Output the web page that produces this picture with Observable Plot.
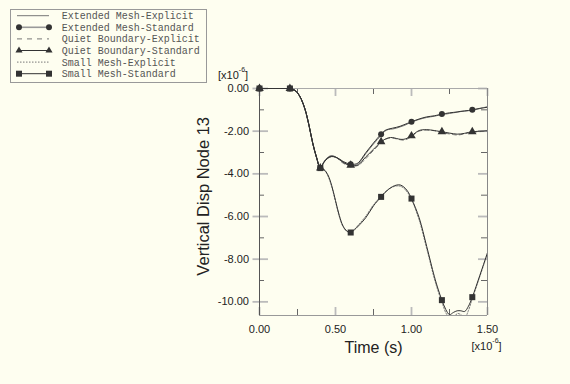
<!DOCTYPE html>
<html><head><meta charset="utf-8">
<script src="https://cdn.jsdelivr.net/npm/d3@7"></script>
<script src="https://cdn.jsdelivr.net/npm/@observablehq/plot@0.6"></script>
<style>
html,body{margin:0;padding:0;background:#fefef0;}
#chart{position:relative;width:570px;height:384px;}
</style></head><body><div id="chart"></div>
<script>
const times = [0, 0.2, 0.225, 0.25, 0.275, 0.3, 0.325, 0.35, 0.375, 0.4,
  0.425, 0.45, 0.475, 0.5, 0.525, 0.55, 0.575, 0.6, 0.625, 0.65,
  0.7, 0.75, 0.8, 0.825, 0.85, 0.875, 0.9, 0.925, 0.95, 0.975,
  1.0, 1.05, 1.1, 1.15, 1.175, 1.2, 1.225, 1.25, 1.275, 1.3,
  1.325, 1.35, 1.375, 1.4, 1.45, 1.5];

const extendedExplicit = [0, 0, -0.05, -0.21, -0.52, -1.0, -1.72, -2.57, -3.24, -3.72,
  -3.42, -3.22, -3.15, -3.2, -3.33, -3.47, -3.56, -3.6, -3.6, -3.52,
  -3.05, -2.6, -2.2, -2.0, -1.92, -1.9, -1.86, -1.8, -1.74, -1.66,
  -1.58, -1.45, -1.36, -1.3, -1.26, -1.22, -1.2, -1.17, -1.14, -1.11,
  -1.08, -1.06, -1.04, -1.02, -0.94, -0.85];
const extendedStandard = [0, 0, -0.05, -0.2, -0.5, -0.98, -1.7, -2.55, -3.22, -3.73,
  -3.45, -3.27, -3.19, -3.22, -3.3, -3.42, -3.5, -3.55, -3.55, -3.48,
  -3.0, -2.55, -2.14, -1.97, -1.9, -1.86, -1.82, -1.77, -1.7, -1.63,
  -1.56, -1.43, -1.33, -1.28, -1.24, -1.2, -1.17, -1.14, -1.12, -1.1,
  -1.07, -1.05, -1.03, -1.0, -0.93, -0.88];
const quietExplicit = [0, 0, -0.05, -0.21, -0.52, -1.0, -1.72, -2.57, -3.24, -3.72,
  -3.42, -3.22, -3.16, -3.2, -3.35, -3.5, -3.58, -3.62, -3.63, -3.6,
  -3.28, -2.9, -2.55, -2.4, -2.33, -2.32, -2.36, -2.4, -2.42, -2.36,
  -2.25, -2.0, -1.95, -1.98, -2.02, -2.06, -2.1, -2.13, -2.16, -2.18,
  -2.16, -2.12, -2.08, -2.05, -2.02, -2.0];
const quietStandard = [0, 0, -0.05, -0.2, -0.5, -0.98, -1.7, -2.55, -3.22, -3.73,
  -3.45, -3.25, -3.18, -3.22, -3.32, -3.45, -3.55, -3.6, -3.62, -3.58,
  -3.2, -2.85, -2.5, -2.38, -2.31, -2.3, -2.34, -2.38, -2.38, -2.32,
  -2.22, -1.97, -1.93, -1.97, -2.0, -2.03, -2.06, -2.09, -2.12, -2.14,
  -2.13, -2.1, -2.06, -2.03, -2.0, -1.98];
const smallExplicit = [0, 0, -0.05, -0.21, -0.52, -1.0, -1.72, -2.57, -3.24, -3.72,
  -3.82, -4.1, -4.6, -5.3, -6.0, -6.48, -6.7, -6.72, -6.6, -6.4,
  -5.98, -5.45, -5.05, -4.86, -4.72, -4.62, -4.57, -4.58, -4.68, -4.88,
  -5.2, -6.15, -7.5, -8.9, -9.5, -10.0, -10.5, -10.75, -10.8, -10.55,
  -10.6, -10.75, -10.4, -9.85, -8.8, -7.75];
const smallStandard = [0, 0, -0.05, -0.2, -0.5, -0.98, -1.7, -2.55, -3.22, -3.73,
  -3.8, -4.05, -4.55, -5.25, -5.95, -6.45, -6.68, -6.75, -6.62, -6.45,
  -6.05, -5.5, -5.08, -4.88, -4.72, -4.6, -4.53, -4.52, -4.62, -4.82,
  -5.16, -6.05, -7.4, -8.8, -9.4, -9.92, -10.35, -10.6, -10.5, -10.42,
  -10.42, -10.45, -10.2, -9.78, -8.75, -7.69];

const seriesNames = ["Extended Mesh-Explicit", "Extended Mesh-Standard", "Quiet Boundary-Explicit",
  "Quiet Boundary-Standard", "Small Mesh-Explicit", "Small Mesh-Standard"];
const markerTimes = [0, 0.2, 0.4, 0.6, 0.8, 1.0, 1.2, 1.4];
const xTicks = [0, 0.5, 1.0, 1.5];
const xMinor = [0.25, 0.75, 1.25];
const yTicks = [0, -2, -4, -6, -8, -10];
const yMinor = [-1, -3, -5, -7, -9];
const xDomain = [0, 1.5];
const yDomain = [-10.64, 0];
const xLabel = "Time (s)";
const yLabel = "Vertical Disp Node 13";
const scaleNote = ["[x10", "-6", "]"];

const W = 570, H = 384, mL = 259, mR = 83, mT = 88, mB = 69;
const iw = W - mL - mR, ih = H - mT - mB;
const font = "'Liberation Sans', Arial, sans-serif";
const rows = vals => times.map((t, i) => ({t, v: vals[i]}));
const marks = vals => rows(vals).filter(d => markerTimes.includes(d.t));

const dark = "#333", light = "#777";
const lineOpts = (stroke, extra = {}) => ({x: "t", y: "v", stroke, strokeWidth: 1, curve: "catmull-rom", clip: true, ...extra});

const chart = Plot.plot({
  width: W, height: H, marginLeft: mL, marginRight: mR, marginTop: mT, marginBottom: mB,
  style: {background: "#fefef0", fontFamily: font, overflow: "visible"},
  x: {domain: xDomain},
  y: {domain: yDomain},
  marks: [
    // inner ticks
    Plot.tickY(yTicks, {y: d => d, insetRight: iw - 9, stroke: "#bbb", strokeWidth: 1.8}),
    Plot.tickY(yMinor, {y: d => d, insetRight: iw - 5, stroke: "#666", strokeWidth: 1}),
    Plot.tickY(yTicks, {y: d => d, insetLeft: iw - 9, stroke: "#bbb", strokeWidth: 1.8}),
    Plot.tickY(yMinor, {y: d => d, insetLeft: iw - 6, stroke: "#666", strokeWidth: 1}),
    Plot.tickX(xTicks, {x: d => d, insetTop: ih - 8, stroke: "#bbb", strokeWidth: 1.8}),
    Plot.tickX(xMinor, {x: d => d, insetTop: ih - 6, stroke: "#666", strokeWidth: 1}),
    Plot.tickX(xTicks, {x: d => d, insetBottom: ih - 8, stroke: "#bbb", strokeWidth: 1.8}),
    Plot.tickX(xMinor, {x: d => d, insetBottom: ih - 6, stroke: "#666", strokeWidth: 1}),
    // frame
    Plot.ruleY([yDomain[1]], {stroke: "#aaa"}),
    Plot.ruleX([xDomain[1]], {stroke: "#888"}),
    Plot.ruleY([yDomain[0]], {stroke: "#999"}),
    Plot.ruleX([xDomain[0]], {stroke: "#555"}),
    Plot.axisY({ticks: yTicks, tickSize: 6.5, tickPadding: 4, tickFormat: d => d.toFixed(2),
      fontSize: 11, stroke: "#bbb", strokeWidth: 1.8, fill: "#222", label: null}),
    Plot.axisX({ticks: xTicks, tickSize: 0, tickPadding: 10, tickFormat: d => d.toFixed(2),
      fontSize: 11, fill: "#222", label: null}),
    // labels
    Plot.text([xLabel], {text: d => d, frameAnchor: "bottom", dy: 26, lineAnchor: "top", textAnchor: "middle", fontSize: 16, fill: "#222"}),
    Plot.text([yLabel], {text: d => d, frameAnchor: "left", rotate: -90, dx: -55.6, dy: -5.7, textAnchor: "middle", lineAnchor: "middle", fontSize: 16.5, fill: "#222"}),
    // lines
    Plot.line(rows(extendedExplicit), lineOpts(light)),
    Plot.line(rows(quietExplicit), lineOpts(light, {strokeDasharray: "4,3"})),
    Plot.line(rows(smallExplicit), lineOpts(light, {strokeDasharray: "1.5,1.5"})),
    Plot.line(rows(extendedStandard), lineOpts(dark)),
    Plot.line(rows(quietStandard), lineOpts(dark)),
    Plot.line(rows(smallStandard), lineOpts(dark)),
    // markers
    Plot.dot(marks(quietStandard), {x: "t", y: "v", symbol: "triangle", r: 3.2, fill: dark, stroke: "none"}),
    Plot.dot(marks(extendedStandard), {x: "t", y: "v", symbol: "circle", r: 3, fill: dark, stroke: "none"}),
    Plot.dot(marks(smallStandard), {x: "t", y: "v", symbol: "square", r: 3.4, fill: dark, stroke: "none"})
  ]
});

document.getElementById("chart").appendChild(chart);

// annotations and legend
const svg = d3.select(chart);
function note(x, y) {
  const t = svg.append("text").attr("x", x).attr("y", y).attr("font-family", font)
    .attr("text-anchor", "start").attr("font-size", 11).attr("fill", "#222");
  t.append("tspan").text(scaleNote[0]);
  t.append("tspan").attr("dy", -7).attr("font-size", 7).text(scaleNote[1]);
  t.append("tspan").attr("dy", 7).text(scaleNote[2]);
}
note(218, 78.5);
note(471.5, 349.5);

const lg = svg.append("g").attr("text-anchor", "start");
lg.append("rect").attr("x", 10.5).attr("y", 9.5).attr("width", 196).attr("height", 73)
  .attr("fill", "none").attr("stroke", "#999");
const rowY = i => 15.7 + i * 11.6;
const styles = [
  {stroke: light, width: 1, dash: null, sym: null},
  {stroke: "#999", width: 1.6, dash: null, sym: d3.symbolCircle, size: 28},
  {stroke: light, width: 1, dash: "5,5", sym: null},
  {stroke: dark, width: 1, dash: null, sym: d3.symbolTriangle, size: 22},
  {stroke: light, width: 1, dash: "1.5,1.5", sym: null},
  {stroke: dark, width: 1, dash: null, sym: d3.symbolSquare, size: 36}
];
seriesNames.forEach((name, i) => {
  const y = rowY(i);
  const s = styles[i];
  const x1 = s.sym ? 19 : 17, x2 = 49;
  lg.append("line").attr("x1", x1).attr("x2", x2).attr("y1", y).attr("y2", y)
    .attr("stroke", s.stroke).attr("stroke-width", s.width).attr("stroke-dasharray", s.dash);
  if (s.sym) {
    [x1, x2].forEach(x => lg.append("path").attr("d", d3.symbol(s.sym, s.size)())
      .attr("transform", `translate(${x},${y})`).attr("fill", dark));
  }
  lg.append("text").attr("x", 61.7).attr("y", y + 3.5).attr("text-anchor", "start")
    .attr("font-family", "'Liberation Mono', 'Courier New', monospace")
    .attr("font-size", 10).attr("fill", "#555").text(name);
});
</script></body></html>
